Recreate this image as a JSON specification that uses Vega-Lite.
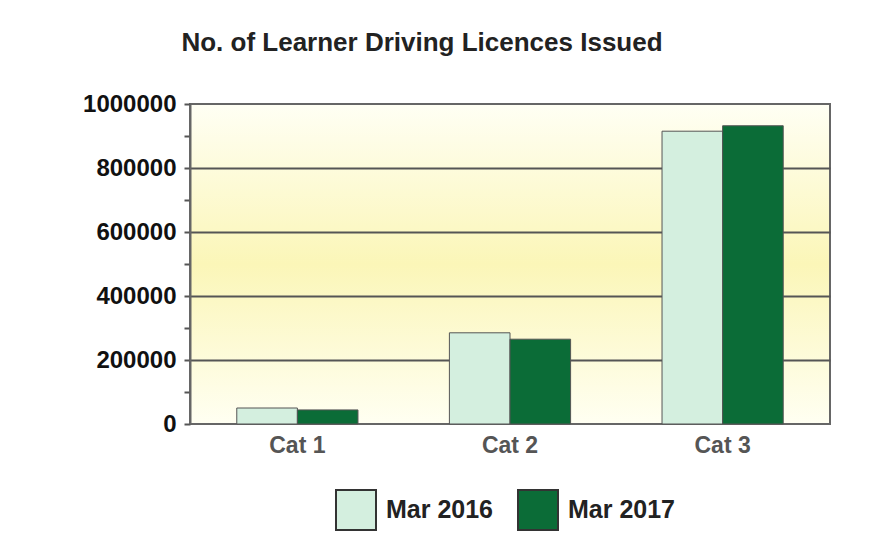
{
  "$schema": "https://vega.github.io/schema/vega-lite/v6.json",
  "width": 640,
  "height": 320,
  "autosize": {"type": "none"},
  "padding": {"left": 190, "top": 104, "right": 52, "bottom": 129},
  "background": "#ffffff",
  "title": {
    "text": "No. of Learner Driving Licences Issued",
    "anchor": "middle",
    "dx": -88,
    "offset": 36,
    "font": "Liberation Sans",
    "fontSize": 26,
    "fontWeight": "bold",
    "color": "#222222"
  },
  "data": {
    "values": [
      {"category": "Cat 1", "period": "Mar 2016", "licences": 50000},
      {"category": "Cat 1", "period": "Mar 2017", "licences": 44000},
      {"category": "Cat 2", "period": "Mar 2016", "licences": 285000},
      {"category": "Cat 2", "period": "Mar 2017", "licences": 265000},
      {"category": "Cat 3", "period": "Mar 2016", "licences": 915000},
      {"category": "Cat 3", "period": "Mar 2017", "licences": 932000}
    ]
  },
  "mark": {"type": "bar", "stroke": "#555555", "strokeWidth": 1},
  "encoding": {
    "x": {
      "field": "category",
      "type": "nominal",
      "title": null,
      "scale": {"paddingInner": 0.43, "paddingOuter": 0.22},
      "axis": {
        "labelAngle": 0,
        "labelFont": "Liberation Sans",
        "labelFontSize": 23,
        "labelFontWeight": "bold",
        "labelColor": "#555555",
        "labelPadding": 10,
        "domain": false,
        "ticks": false
      }
    },
    "xOffset": {"field": "period", "type": "nominal", "scale": {"paddingInner": 0}},
    "y": {
      "field": "licences",
      "type": "quantitative",
      "title": null,
      "scale": {"domain": [0, 1000000], "nice": false},
      "axis": {
        "values": [0, 100000, 200000, 300000, 400000, 500000, 600000, 700000, 800000, 900000, 1000000],
        "labelExpr": "datum.value % 200000 === 0 ? datum.value : ''",
        "format": "d",
        "labelFont": "Liberation Sans",
        "labelFontSize": 24,
        "labelFontWeight": "bold",
        "labelColor": "#111111",
        "labelPadding": 8,
        "tickSize": 6,
        "tickColor": "#555555",
        "tickWidth": 2,
        "domainColor": "#666666",
        "domainWidth": 2,
        "grid": true,
        "gridColor": "#555555",
        "gridWidth": 2,
        "gridOpacity": {"condition": {"test": "datum.value % 200000 !== 0 || datum.value === 0 || datum.value === 1000000", "value": 0}, "value": 1}
      }
    },
    "fill": {
      "field": "period",
      "type": "nominal",
      "scale": {"domain": ["Mar 2016", "Mar 2017"], "range": ["#d4efdf", "#0b6c37"]},
      "legend": {
        "title": null,
        "orient": "none",
        "legendX": 145,
        "legendY": 385,
        "direction": "horizontal",
        "symbolType": "square",
        "symbolSize": 1600,
        "symbolStrokeColor": "#333333",
        "symbolStrokeWidth": 2,
        "labelFont": "Liberation Sans",
        "labelFontSize": 25,
        "labelFontWeight": "bold",
        "labelColor": "#222222",
        "labelOffset": 9,
        "columnPadding": 20
      }
    }
  },
  "config": {
    "view": {
      "stroke": "#666666",
      "strokeWidth": 2,
      "fill": {
        "gradient": "linear",
        "x1": 0, "y1": 0, "x2": 0, "y2": 1,
        "stops": [
          {"offset": 0, "color": "#fffff4"},
          {"offset": 0.5, "color": "#fbf6b8"},
          {"offset": 1, "color": "#fffff2"}
        ]
      }
    }
  }
}
